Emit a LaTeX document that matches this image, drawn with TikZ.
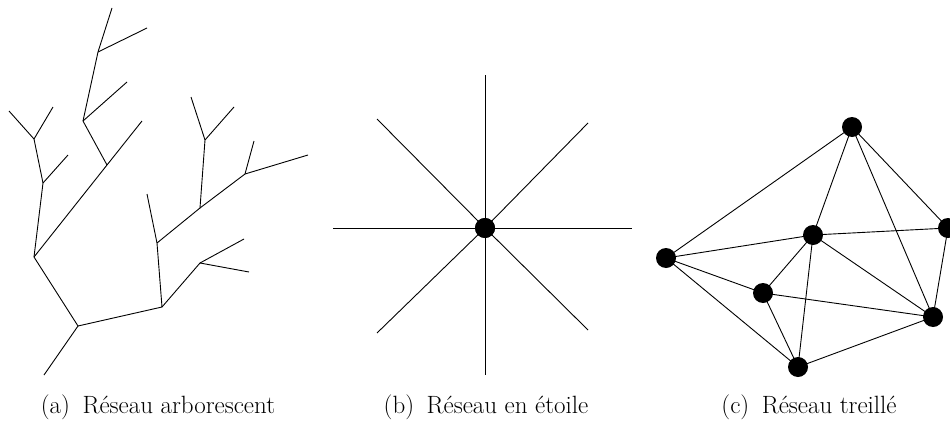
\documentclass[tikz,border=0pt]{standalone}
\begin{document}
\begin{tikzpicture}[x=1pt,y=-1pt,
  edge/.style={line width=0.9pt,black},
  dot/.style={circle,fill=black,inner sep=0pt,minimum size=20pt},
  caption/.style={font=\fontsize{25}{29}\selectfont,anchor=base}]
\useasboundingbox (0,0) rectangle (950,423);
% ---------- (a) tree ----------
\coordinate (r)  at (44,375);
\coordinate (b)  at (78,326);
\coordinate (a)  at (34,257);
\coordinate (l1) at (43,183);
\coordinate (l1e) at (68,155);
\coordinate (l2) at (34,139);
\coordinate (l2a) at (9,111);
\coordinate (l2b) at (53,107);
\coordinate (m1) at (107,165);
\coordinate (m1e) at (142,121);
\coordinate (m2) at (83,121);
\coordinate (m2e) at (127,82);
\coordinate (m3) at (98,52);
\coordinate (m3a) at (112,8);
\coordinate (m3b) at (147,28);
\coordinate (c)  at (162,307);
\coordinate (d)  at (157,243);
\coordinate (de) at (147,194);
\coordinate (f)  at (200,208);
\coordinate (f2) at (205,140);
\coordinate (f2a) at (191,97);
\coordinate (f2b) at (234,107);
\coordinate (g)  at (245,174);
\coordinate (ga) at (254,141);
\coordinate (gb) at (308,155);
\coordinate (h)  at (200,263);
\coordinate (ha) at (244,239);
\coordinate (hb) at (249,272);
\draw[edge] (r) -- (b) -- (a) -- (l1) -- (l2) -- (l2a);
\draw[edge] (l2) -- (l2b);
\draw[edge] (l1) -- (l1e);
\draw[edge] (a) -- (m1) -- (m1e);
\draw[edge] (m1) -- (m2) -- (m3) -- (m3a);
\draw[edge] (m2) -- (m2e);
\draw[edge] (m3) -- (m3b);
\draw[edge] (b) -- (c) -- (d) -- (de);
\draw[edge] (d) -- (f) -- (f2) -- (f2a);
\draw[edge] (f2) -- (f2b);
\draw[edge] (f) -- (g) -- (ga);
\draw[edge] (g) -- (gb);
\draw[edge] (c) -- (h) -- (ha);
\draw[edge] (h) -- (hb);
\node[caption] (capa) at (158,413) {(a)\enspace Réseau arborescent};
% ---------- (b) star ----------
\node[dot] (s) at (485,228) {};
\coordinate (sN) at (485,75);
\coordinate (sS) at (485,375);
\coordinate (sW) at (333,228);
\coordinate (sE) at (632,228);
\coordinate (sNW) at (377,119);
\coordinate (sNE) at (588,123);
\coordinate (sSW) at (377,333);
\coordinate (sSE) at (588,330);
\foreach \p in {sN,sS,sW,sE,sNW,sNE,sSW,sSE}
  \draw[edge] (s.center) -- (\p);
\node[dot] at (s) {};
\node[caption] (capb) at (486,413) {(b)\enspace Réseau en étoile};
% ---------- (c) lattice ----------
\coordinate (n1) at (852,127);
\coordinate (n2) at (948,228);
\coordinate (n3) at (813,235);
\coordinate (n4) at (666,258);
\coordinate (n5) at (763,293);
\coordinate (n6) at (933,317);
\coordinate (n7) at (798,367);
\foreach \u/\v in {n4/n1,n4/n3,n4/n5,n4/n7,n1/n3,n1/n6,n1/n2,n3/n2,n3/n5,n3/n7,n3/n6,n5/n6,n5/n7,n7/n6,n2/n6}
  \draw[edge] (\u) -- (\v);
\foreach \n in {n1,n2,n3,n4,n5,n6,n7}
  \node[dot] (d\n) at (\n) {};
\node[caption] (capc) at (809,413) {(c)\enspace Réseau treillé};
\end{tikzpicture}
\end{document}
